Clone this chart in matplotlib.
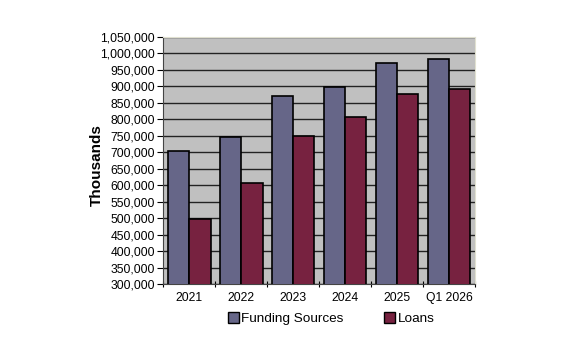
import numpy as np
import matplotlib.pyplot as plt
from matplotlib.ticker import FuncFormatter, MultipleLocator
from matplotlib.patches import Patch

plt.rcParams['font.family'] = ['Liberation Sans', 'DejaVu Sans']

# Data (thousands)
periods = ['2021', '2022', '2023', '2024', '2025', 'Q1 2026']
funding_sources = [704000, 748000, 870000, 898000, 971000, 984000]
loans = [498000, 607000, 749000, 807000, 878000, 891000]

fs_color = '#666688'
loan_color = '#772240'

fig = plt.figure(figsize=(5.73, 3.56), dpi=100)
ax = fig.add_axes([0.285, 0.202, 0.544, 0.694])
ax.set_facecolor('#c0c0c0')

x = np.arange(len(periods))
w = 0.41
ax.bar(x - w / 2, funding_sources, w, color=fs_color, edgecolor='black', linewidth=1.2, zorder=3)
ax.bar(x + w / 2, loans, w, color=loan_color, edgecolor='black', linewidth=1.2, zorder=3)

ax.set_ylim(300000, 1050000)
ax.set_xlim(-0.5, len(periods) - 0.5)
ax.yaxis.set_major_locator(MultipleLocator(50000))
ax.yaxis.set_major_formatter(FuncFormatter(lambda v, p: f'{int(v):,}'))
ax.grid(axis='y', color='#222222', linewidth=1.0, zorder=1)

ax.set_xticks(x)
ax.set_xticklabels(periods)
ax.set_xticks(np.arange(-0.5, len(periods)), minor=True)
ax.tick_params(axis='x', which='major', length=0, labelsize=8.7, pad=6)
ax.tick_params(axis='x', which='minor', length=4, direction='inout', width=0.8)
ax.tick_params(axis='y', length=4, width=0.8, labelsize=8.7, pad=2)

for side in ['top', 'right']:
    ax.spines[side].set_color('#e0e0d0')
for side in ['left', 'bottom']:
    ax.spines[side].set_color('#444444')

ax.set_ylabel('Thousands', fontsize=11, fontweight='bold')
ax.yaxis.set_label_coords(-0.192, 0.48)

handles = [Patch(facecolor=fs_color, edgecolor='black', label='Funding Sources'),
           Patch(facecolor=loan_color, edgecolor='black', label='Loans')]
fig.legend(handles=handles, loc='center', bbox_to_anchor=(0.578, 0.105), ncol=2,
           frameon=False, fontsize=9.7, handlelength=0.8, handleheight=0.8,
           handletextpad=0.2, columnspacing=3.0)

fig.savefig('out.png', dpi=100)
